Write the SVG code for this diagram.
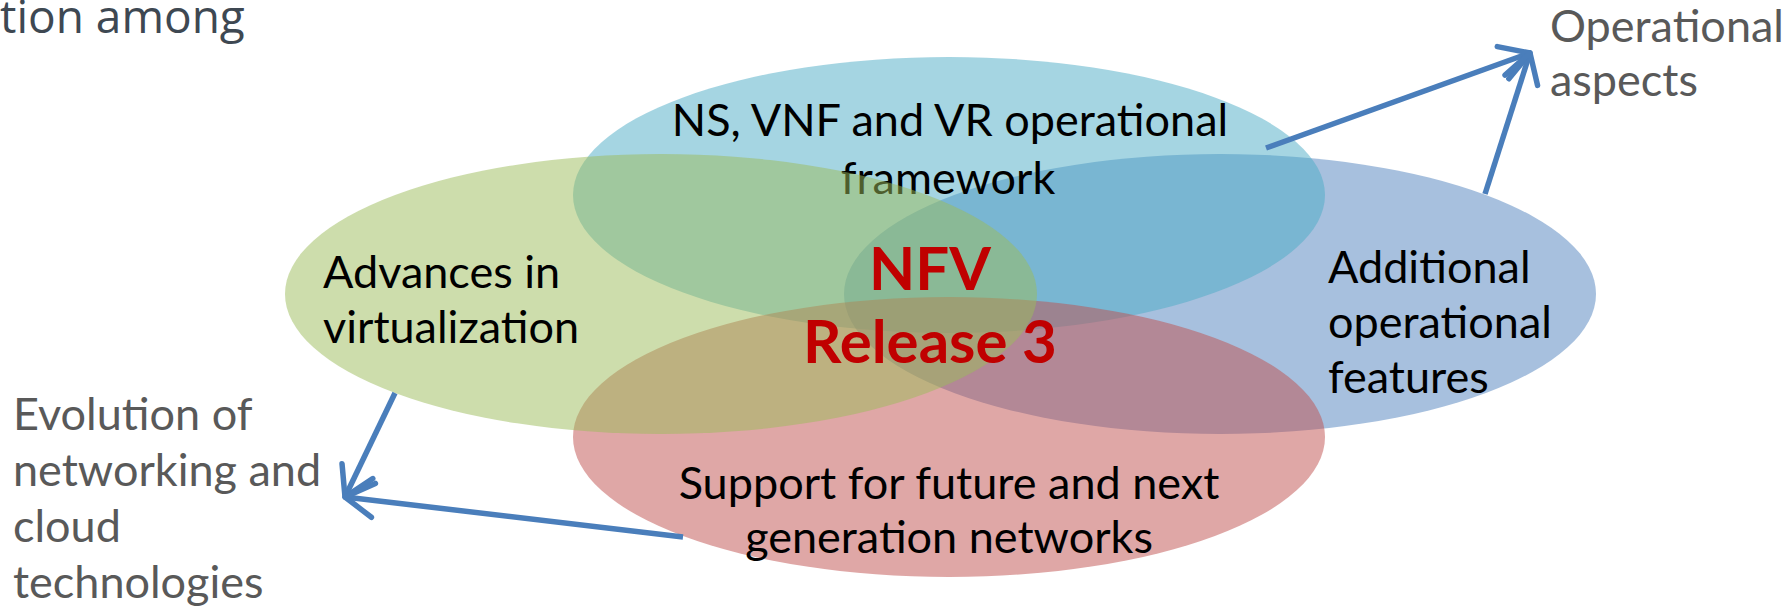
<svg xmlns="http://www.w3.org/2000/svg" width="1791" height="608" viewBox="0 0 1791 608">
<defs>
<style>
.lbl{font-family:Lato,"Open Sans",sans-serif;font-size:45px;fill:#000}
.side{font-family:Lato,"Open Sans",sans-serif;font-size:45px;fill:#595959}
.ctr{text-anchor:middle}
.core{font-family:Lato,"Liberation Sans",sans-serif;font-size:60px;font-weight:bold;fill:#C00000;text-anchor:middle}
.title{font-family:"Open Sans",sans-serif;font-size:46px;fill:#3E4852}
.conn{fill:none;stroke:#4A7EBB;stroke-width:5.5;stroke-linecap:butt;marker-end:url(#open)}
</style>
<marker id="open" viewBox="-7 -5 9 10" refX="0" refY="0" markerWidth="9" markerHeight="10" markerUnits="strokeWidth" orient="auto" overflow="visible">
<path d="M-5.2,-3.1 L0,0 L-5.2,3.1" fill="none" stroke="#4A7EBB" stroke-width="1" stroke-linecap="round" stroke-linejoin="round"/>
</marker>
</defs>
<rect width="1791" height="608" fill="#FFFFFF"/>
<g id="title"><text class="title" x="0" y="33">tion among</text></g>
<g id="node-additional">
<ellipse cx="1220" cy="294" rx="376" ry="140" fill="#4F81BD" fill-opacity="0.5"/>
<text class="lbl" x="1328" y="283">Additional</text>
<text class="lbl" x="1328" y="338">operational</text>
<text class="lbl" x="1328" y="393">features</text>
</g>
<g id="node-operational-framework">
<ellipse cx="949" cy="195" rx="376" ry="138" fill="#4BACC6" fill-opacity="0.5"/>
<text class="lbl ctr" x="950" y="136">NS, VNF and VR operational</text>
<text class="lbl ctr" x="948" y="194">framework</text>
</g>
<g id="node-future-networks">
<ellipse cx="949" cy="437" rx="376" ry="140" fill="#C0504D" fill-opacity="0.5"/>
<text class="lbl ctr" x="949" y="499">Support for future and next</text>
<text class="lbl ctr" x="949" y="553">generation networks</text>
</g>
<g id="node-virtualization">
<ellipse cx="661" cy="294" rx="376" ry="140" fill="#9BBB59" fill-opacity="0.5"/>
<text class="lbl" x="323" y="288">Advances in</text>
<text class="lbl" x="323" y="343">virtualization</text>
</g>
<g id="node-nfv">
<text class="core" x="930" y="290">NFV</text>
<text class="core" x="930" y="363">Release 3</text>
</g>
<g id="node-operational-aspects">
<text class="side" x="1550" y="42">Operational</text>
<text class="side" x="1550" y="96">aspects</text>
</g>
<g id="node-evolution">
<text class="side" x="13" y="430">Evolution of</text>
<text class="side" x="13" y="486">networking and</text>
<text class="side" x="13" y="542">cloud</text>
<text class="side" x="13" y="598">technologies</text>
</g>
<g id="connectors">
<line class="conn" x1="1266" y1="148" x2="1530" y2="53"/>
<line class="conn" x1="1485" y1="194" x2="1530" y2="53"/>
<line class="conn" x1="395" y1="393" x2="345" y2="497"/>
<line class="conn" x1="683" y1="537" x2="345" y2="497"/>
</g>
</svg>
